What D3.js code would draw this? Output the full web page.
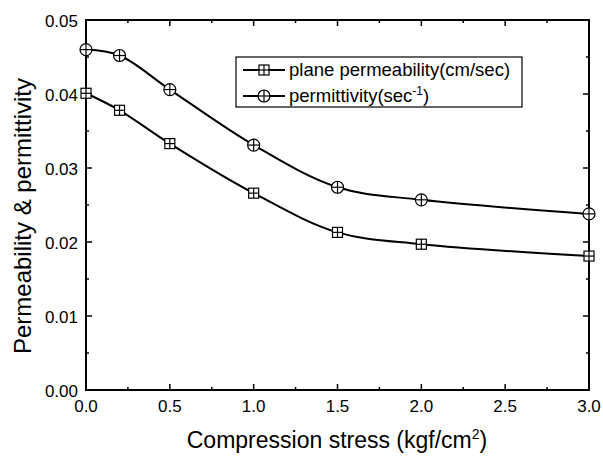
<!DOCTYPE html>
<html>
<head>
<meta charset="utf-8">
<script src="https://cdn.jsdelivr.net/npm/d3@7"></script>
<style>
  body { margin: 0; background: #fff; }
  text { font-family: "Liberation Sans", Arial, sans-serif; fill: #000; }
</style>
</head>
<body>
<svg id="chart" width="603" height="460"></svg>
<script>
// data
var stress = [0, 0.2, 0.5, 1.0, 1.5, 2.0, 3.0];
var permeability = [0.0401, 0.0378, 0.0333, 0.0266, 0.0213, 0.0197, 0.0181];
var permittivity = [0.0460, 0.0452, 0.0406, 0.0331, 0.0274, 0.0257, 0.0238];
var xTicks = [0, 0.5, 1.0, 1.5, 2.0, 2.5, 3.0];
var yTicks = [0, 0.01, 0.02, 0.03, 0.04, 0.05];

var svg = d3.select("#chart");
var pLeft = 86, pRight = 589, pTop = 20, pBottom = 390;

var x = d3.scaleLinear().domain([0, 3]).range([pLeft, pRight]);
var y = d3.scaleLinear().domain([0, 0.05]).range([pBottom, pTop]);

// frame
svg.append("rect")
  .attr("x", pLeft).attr("y", pTop)
  .attr("width", pRight - pLeft).attr("height", pBottom - pTop)
  .style("fill", "none").style("stroke", "#000").style("stroke-width", 2);

var xMinor = d3.range(0.25, 3, 0.5);
var yMinor = d3.range(0.005, 0.05, 0.01);

// inward ticks on all four sides
function ticks(g, vals, len, horiz) {
  vals.forEach(function (v) {
    if (horiz) {
      g.append("line").attr("x1", x(v)).attr("x2", x(v)).attr("y1", pBottom).attr("y2", pBottom - len);
      g.append("line").attr("x1", x(v)).attr("x2", x(v)).attr("y1", pTop).attr("y2", pTop + len);
    } else {
      g.append("line").attr("y1", y(v)).attr("y2", y(v)).attr("x1", pLeft).attr("x2", pLeft + len);
      g.append("line").attr("y1", y(v)).attr("y2", y(v)).attr("x1", pRight).attr("x2", pRight - len);
    }
  });
}
var tg = svg.append("g").style("stroke", "#000").style("stroke-width", 1.5);
ticks(tg, xTicks, 6, true);
ticks(tg, xMinor, 3, true);
ticks(tg, yTicks, 6, false);
ticks(tg, yMinor, 3, false);

svg.append("g").selectAll("text").data(xTicks).join("text")
  .attr("x", function (d) { return x(d); })
  .attr("y", 412)
  .attr("text-anchor", "middle")
  .style("font-size", "17px")
  .text(function (d) { return d.toFixed(1); });

svg.append("g").selectAll("text").data(yTicks).join("text")
  .attr("x", 78)
  .attr("y", function (d) { return y(d) + 6.5; })
  .attr("text-anchor", "end")
  .style("font-size", "17px")
  .text(function (d) { return d.toFixed(2); });

// axis titles
var xt = svg.append("text")
  .attr("x", 337)
  .attr("y", 448)
  .attr("text-anchor", "middle")
  .style("font-size", "23px")
  .text("Compression stress (kgf/cm");
xt.append("tspan").attr("dy", -9).style("font-size", "14px").text("2");
xt.append("tspan").attr("dy", 9).text(")");

svg.append("text")
  .attr("transform", "translate(31,216) rotate(-90)")
  .attr("text-anchor", "middle")
  .style("font-size", "24px")
  .text("Permeability & permittivity");

// series
var series = [
  {name: "plane", vals: permeability, marker: "square"},
  {name: "perm", vals: permittivity, marker: "circle"}
];

var line = d3.line()
  .x(function (d) { return x(d[0]); })
  .y(function (d) { return y(d[1]); })
  .curve(d3.curveCatmullRom.alpha(0.5));

function drawMarker(g, type, cx, cy) {
  var m = g.append("g").attr("transform", "translate(" + cx + "," + cy + ")")
    .style("stroke", "#000").style("stroke-width", 1.2).style("fill", "#fff");
  if (type === "square") {
    m.append("rect").attr("x", -5).attr("y", -5).attr("width", 10).attr("height", 10);
    m.append("line").attr("x1", -5).attr("x2", 5).attr("y1", 0).attr("y2", 0);
    m.append("line").attr("x1", 0).attr("x2", 0).attr("y1", -5).attr("y2", 5);
  } else {
    m.append("circle").attr("r", 6);
    m.append("line").attr("x1", -6).attr("x2", 6).attr("y1", 0).attr("y2", 0);
    m.append("line").attr("x1", 0).attr("x2", 0).attr("y1", -6).attr("y2", 6);
  }
}

series.forEach(function (s) {
  var pts = stress.map(function (v, i) { return [v, s.vals[i]]; });
  svg.append("path").datum(pts)
    .attr("d", line)
    .style("fill", "none").style("stroke", "#000").style("stroke-width", 2);
  var mg = svg.append("g");
  pts.forEach(function (p) { drawMarker(mg, s.marker, x(p[0]), y(p[1])); });
});

// legend
var lg = svg.append("g");
lg.append("rect").attr("x", 236).attr("y", 57).attr("width", 286).attr("height", 50)
  .style("fill", "#fff").style("stroke", "#000").style("stroke-width", 1.2);
[{marker: "square", yy: 70, label: "plane permeability(cm/sec)"},
 {marker: "circle", yy: 96, label: "permittivity(sec"}].forEach(function (d) {
  lg.append("line").attr("x1", 243).attr("x2", 285).attr("y1", d.yy).attr("y2", d.yy)
    .style("stroke", "#000").style("stroke-width", 2);
  drawMarker(lg, d.marker, 264, d.yy);
  var t = lg.append("text").attr("x", 289).attr("y", d.yy + 6).style("font-size", "18.5px").text(d.label);
  if (d.marker === "circle") {
    t.append("tspan").attr("dy", -7).style("font-size", "12px").text("-1");
    t.append("tspan").attr("dy", 7).text(")");
  }
});
</script>
</body>
</html>
